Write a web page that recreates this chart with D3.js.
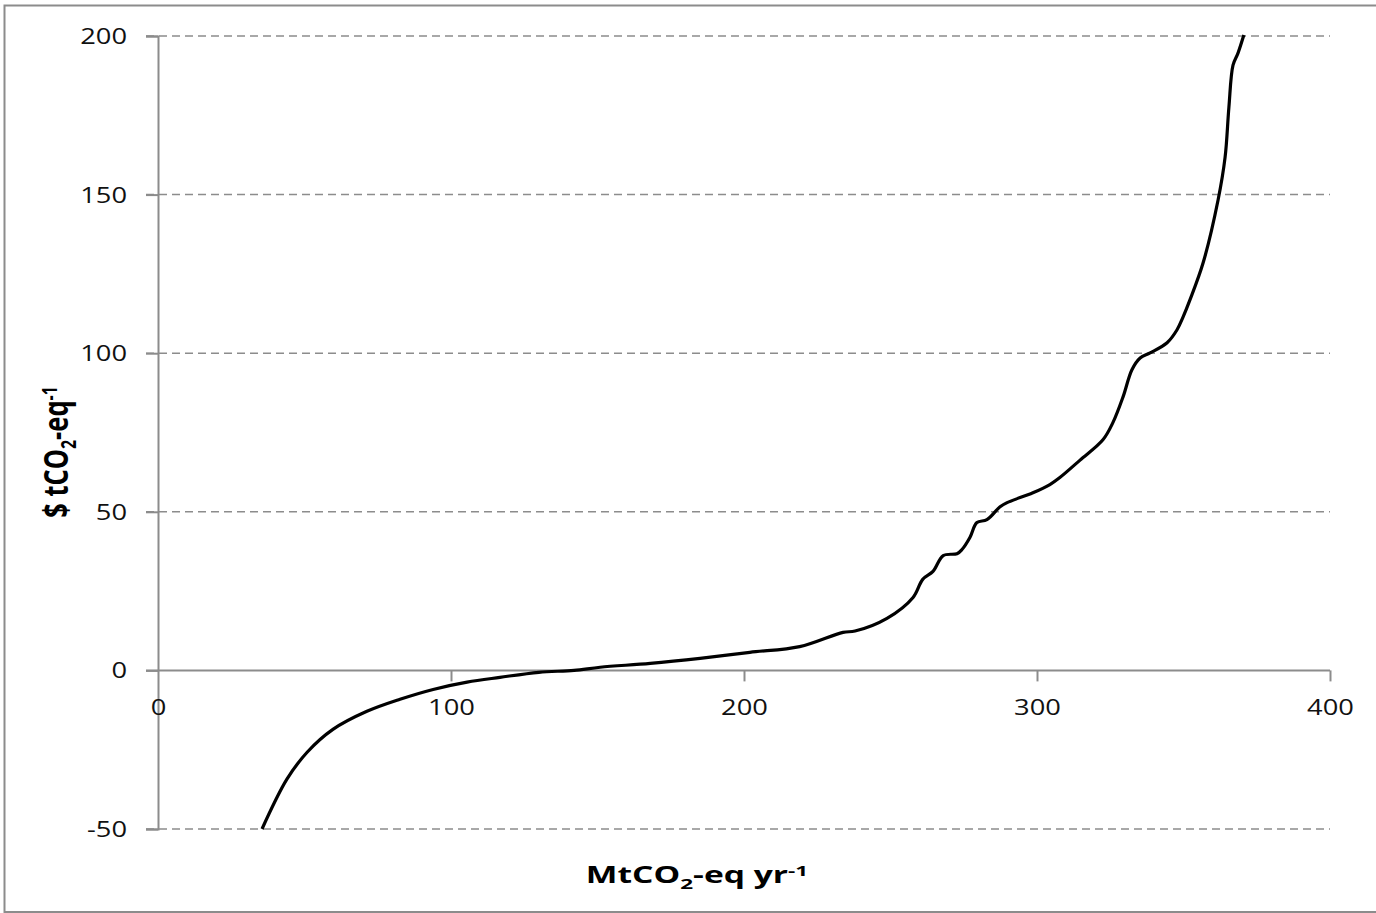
<!DOCTYPE html>
<html>
<head>
<meta charset="utf-8">
<script src="https://cdn.jsdelivr.net/npm/d3@7"></script>
<style>
  html, body { margin: 0; padding: 0; background: #fff; }
  svg { display: block; }
</style>
</head>
<body>
<svg id="chart" width="1376" height="913"></svg>
<script>
// Marginal abatement cost curve: cumulative abatement (MtCO2-eq/yr) vs cost ($/tCO2-eq)
const abatement = [35.5, 44, 50.9, 59.7, 71.3, 82.6, 93.9, 105.5, 116.7, 130, 142, 150.9, 168, 185, 202, 219,
  233.8, 237.9, 248.8, 257.7, 261, 264.5, 268, 272.7, 274.4, 277.1, 279.5, 282.9, 287.4, 289.8,
  298.6, 304.4, 307.8, 314.7, 322.5, 325.9, 329.4, 332.4, 335.2, 338.6, 344.4, 347.8, 349.8, 352.2,
  356.7, 361.8, 364.2, 365.5, 366.9, 368.6, 370.6];
const cost = [-50, -34.3, -25.8, -18.6, -12.9, -9.1, -6.0, -3.7, -2.2, -0.6, 0, 1, 2.2, 3.8, 5.7, 7.5,
  12, 12.4, 16.4, 23, 28.7, 31.2, 36.2, 36.8, 38.1, 41.9, 46.6, 47.5, 51.6, 52.9,
  56, 58.6, 60.8, 66.3, 72.7, 78.1, 86.3, 94.8, 98.5, 100.1, 103.3, 107.4, 111.3, 116.8,
  128.5, 148.3, 161.8, 177.6, 190.8, 194.6, 200.3];
const xTicks = [0, 100, 200, 300, 400];
const yTicks = [-50, 0, 50, 100, 150, 200];

const svg = d3.select("#chart");
const W = 1376;

// outer frame
svg.append("rect")
  .attr("x", 4.5).attr("y", 5.5)
  .attr("width", W + 10).attr("height", 906.5)
  .attr("fill", "none").attr("stroke", "#8c8c8c").attr("stroke-width", 2);

const x = d3.scaleLinear().domain([0, 400]).range([158, 1330]);
const y = d3.scaleLinear().domain([-50, 200]).range([829, 36]);

const labelFont = "'Open Sans', sans-serif";
const labelStretch = 1.3;
const axisGrey = "#8c8c8c";

// dashed horizontal gridlines
svg.append("g")
  .selectAll("line")
  .data(yTicks.filter(d => d !== 0))
  .join("line")
  .attr("x1", x(0) - 12).attr("x2", x(400))
  .attr("y1", d => y(d)).attr("y2", d => y(d))
  .attr("stroke", axisGrey).attr("stroke-width", 1.5)
  .attr("stroke-dasharray", "8,5");

// y axis
const yAxis = svg.append("g")
  .attr("transform", `translate(${x(0)},0)`)
  .call(d3.axisLeft(y).tickValues(yTicks).tickSize(12).tickFormat(d => String(d)));
yAxis.select(".domain").attr("stroke", axisGrey).attr("stroke-width", 2);
yAxis.selectAll(".tick line").attr("stroke", axisGrey).attr("stroke-width", 2);
yAxis.selectAll(".tick text")
  .attr("x", 0).attr("y", 7.5).attr("dy", 0)
  .attr("transform", `translate(-31,0) scale(${labelStretch},1)`)
  .attr("font-family", labelFont).attr("font-size", 21).attr("fill", "#111");

// x axis along zero cost
const xAxis = svg.append("g")
  .attr("transform", `translate(0,${y(0)})`)
  .call(d3.axisBottom(x).tickValues(xTicks).tickSize(11).tickFormat(d => String(d)));
xAxis.select(".domain").attr("stroke", axisGrey).attr("stroke-width", 2)
  .attr("d", `M${x(0) - 12},0H${x(400)}`);
xAxis.selectAll(".tick line").attr("stroke", axisGrey).attr("stroke-width", 2);
xAxis.selectAll(".tick line").filter(d => d === 0).remove();
xAxis.selectAll(".tick text")
  .attr("y", 0).attr("dy", 0)
  .attr("transform", `translate(0,45) scale(${labelStretch},1)`)
  .attr("font-family", labelFont).attr("font-size", 21).attr("fill", "#111");

// cost curve
const pts = abatement.map((a, i) => [a, cost[i]]);
svg.append("path")
  .datum(pts)
  .attr("fill", "none")
  .attr("stroke", "#000")
  .attr("stroke-width", 3.2)
  .attr("stroke-linejoin", "round")
  .attr("d", d3.line().x(d => x(d[0])).y(d => y(d[1])).curve(d3.curveCatmullRom.alpha(0.5)));

// axis titles
const titleFont = "'Open Sans', 'Liberation Sans', sans-serif";
const xt = svg.append("text")
  .attr("transform", "translate(697,883) scale(1.5,1)")
  .attr("text-anchor", "middle")
  .attr("font-family", titleFont).attr("font-weight", "bold")
  .attr("font-size", 22.4).attr("fill", "#000");
xt.append("tspan").text("MtCO");
xt.append("tspan").text("2").attr("font-size", 15).attr("dy", 6);
xt.append("tspan").text("-eq yr").attr("dy", -6);
xt.append("tspan").text("-1").attr("font-size", 15).attr("dy", -7);

const yt = svg.append("text")
  .attr("transform", "translate(68,452) rotate(-90) scale(1,1.36)")
  .attr("text-anchor", "middle")
  .attr("font-family", titleFont).attr("font-weight", "bold")
  .attr("font-size", 25.5).attr("fill", "#000");
yt.append("tspan").text("$ tCO");
yt.append("tspan").text("2").attr("font-size", 16).attr("dy", 6);
yt.append("tspan").text("-eq").attr("dy", -6);
yt.append("tspan").text("-1").attr("font-size", 16).attr("dy", -8);
</script>
</body>
</html>
